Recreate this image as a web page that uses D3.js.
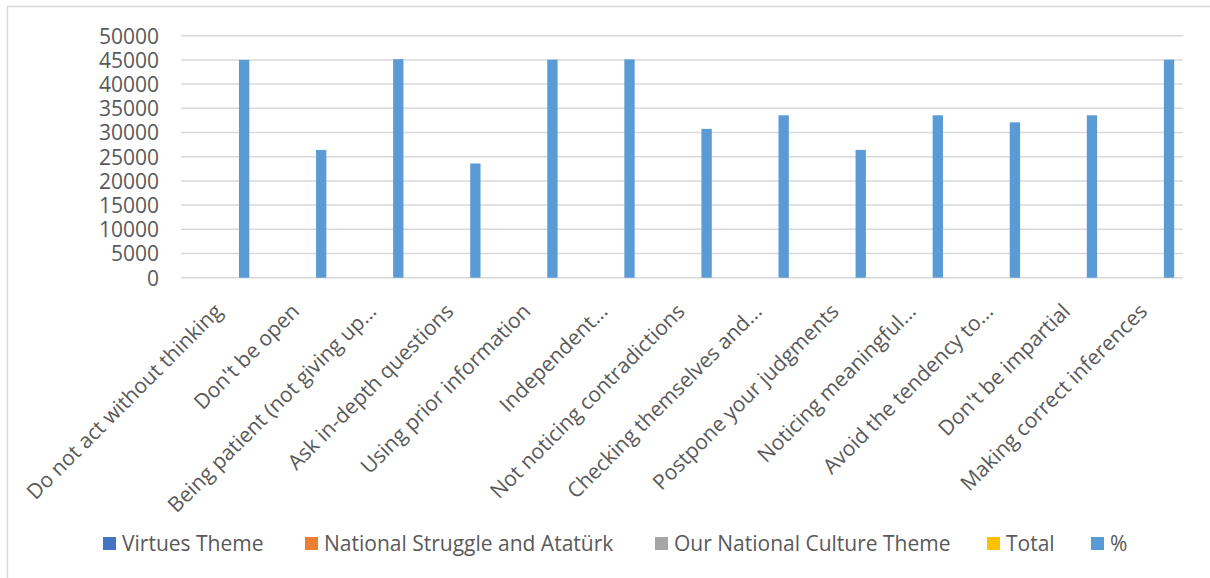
<!DOCTYPE html>
<html><head><meta charset="utf-8">
<script src="https://cdn.jsdelivr.net/npm/d3@7"></script>
<style>body{margin:0;background:#fff;} svg{display:block;font-family:"Open Sans",sans-serif;}</style>
</head><body>
<svg id="chart" width="1210" height="578"></svg>
<script>
const categories = ["Do not act without thinking","Don't be open","Being patient (not giving up...","Ask in-depth questions","Using prior information","Independent...","Not noticing contradictions","Checking themselves and...","Postpone your judgments","Noticing meaningful...","Avoid the tendency to...","Don't be impartial","Making correct inferences"];
const seriesNames = ["Virtues Theme","National Struggle and Atatürk","Our National Culture Theme","Total","%"];
const seriesColors = ["#4472C4","#ED7D31","#A5A5A5","#FFC000","#5B9BD5"];
const virtues = [0,0,0,0,0,0,0,0,0,0,0,0,0];
const nationalStruggle = [0,0,0,0,0,0,0,0,0,0,0,0,0];
const nationalCulture = [0,0,0,0,0,0,0,0,0,0,0,0,0];
const total = [0,0,0,0,0,0,0,0,0,0,0,0,0];
const percent = [45000,26400,45150,23600,45050,45100,30750,33550,26400,33550,32100,33550,45050];
const yTicks = [0,5000,10000,15000,20000,25000,30000,35000,40000,45000,50000];

(function(){
const seriesValues = [virtues, nationalStruggle, nationalCulture, total, percent];
const svg = d3.select("#chart");
const pl = 181, pr = 1183, pt = 35.7, pb = 277.7;
const text = "#595959";
const fs = "21px";

svg.append("rect").attr("x",7.5).attr("y",6.5).attr("width",1240).attr("height",600)
  .attr("fill","none").attr("stroke","#D9D9D9").attr("stroke-width",1.5);

const x = d3.scaleBand().domain(categories).range([pl,pr]).paddingInner(0).paddingOuter(0);
const xs = d3.scaleBand().domain(seriesNames).range([x.bandwidth()/2 - 29.75, x.bandwidth()/2 + 29.75]).paddingInner(0.16);
const y = d3.scaleLinear().domain([0,50000]).range([pb, pt]);

svg.append("g").selectAll("line").data(yTicks).join("line")
  .attr("x1",pl).attr("x2",pr).attr("y1",d=>y(d)).attr("y2",d=>y(d))
  .attr("stroke","#D9D9D9").attr("stroke-width",1.5);

const yAxis = d3.axisLeft(y).tickValues(yTicks).tickSize(0).tickPadding(0).tickFormat(d3.format("d"));
const yg = svg.append("g").attr("transform",`translate(${pl-22},0)`).call(yAxis);
yg.select(".domain").remove();
yg.selectAll("text").attr("fill",text).style("font-size",fs).style("font-family","'Open Sans',sans-serif").attr("dy","0.35em");

const groups = svg.append("g").selectAll("g").data(seriesNames).join("g").attr("fill",(d,i)=>seriesColors[i]);
groups.selectAll("rect").data((s,i)=>seriesValues[i].map((v,j)=>({cat:categories[j],v,s}))).join("rect")
  .attr("x",d=>x(d.cat)+xs(d.s)).attr("width",xs.bandwidth())
  .attr("y",d=>y(d.v)).attr("height",d=>y(0)-y(d.v));

const xAxis = d3.axisBottom(x).tickSize(0).tickPadding(0);
const xg = svg.append("g").attr("transform",`translate(0,${pb})`).call(xAxis);
xg.select(".domain").remove();
xg.selectAll("text").attr("fill",text).style("font-size",fs).style("font-family","'Open Sans',sans-serif")
  .attr("text-anchor","end").attr("y",0).attr("dy","0")
  .attr("transform","translate(4,35) rotate(-45)");

const legendX = [103,305,655,987,1091];
const lg = svg.append("g").selectAll("g").data(seriesNames).join("g")
  .attr("transform",(d,i)=>`translate(${legendX[i]},537)`);
lg.append("rect").attr("width",13).attr("height",13).attr("fill",(d,i)=>seriesColors[i]);
lg.append("text").attr("x",19).attr("y",6.5).attr("dy","0.35em").attr("fill",text)
  .style("font-size",fs).text(d=>d);
})();
</script>
</body></html>
